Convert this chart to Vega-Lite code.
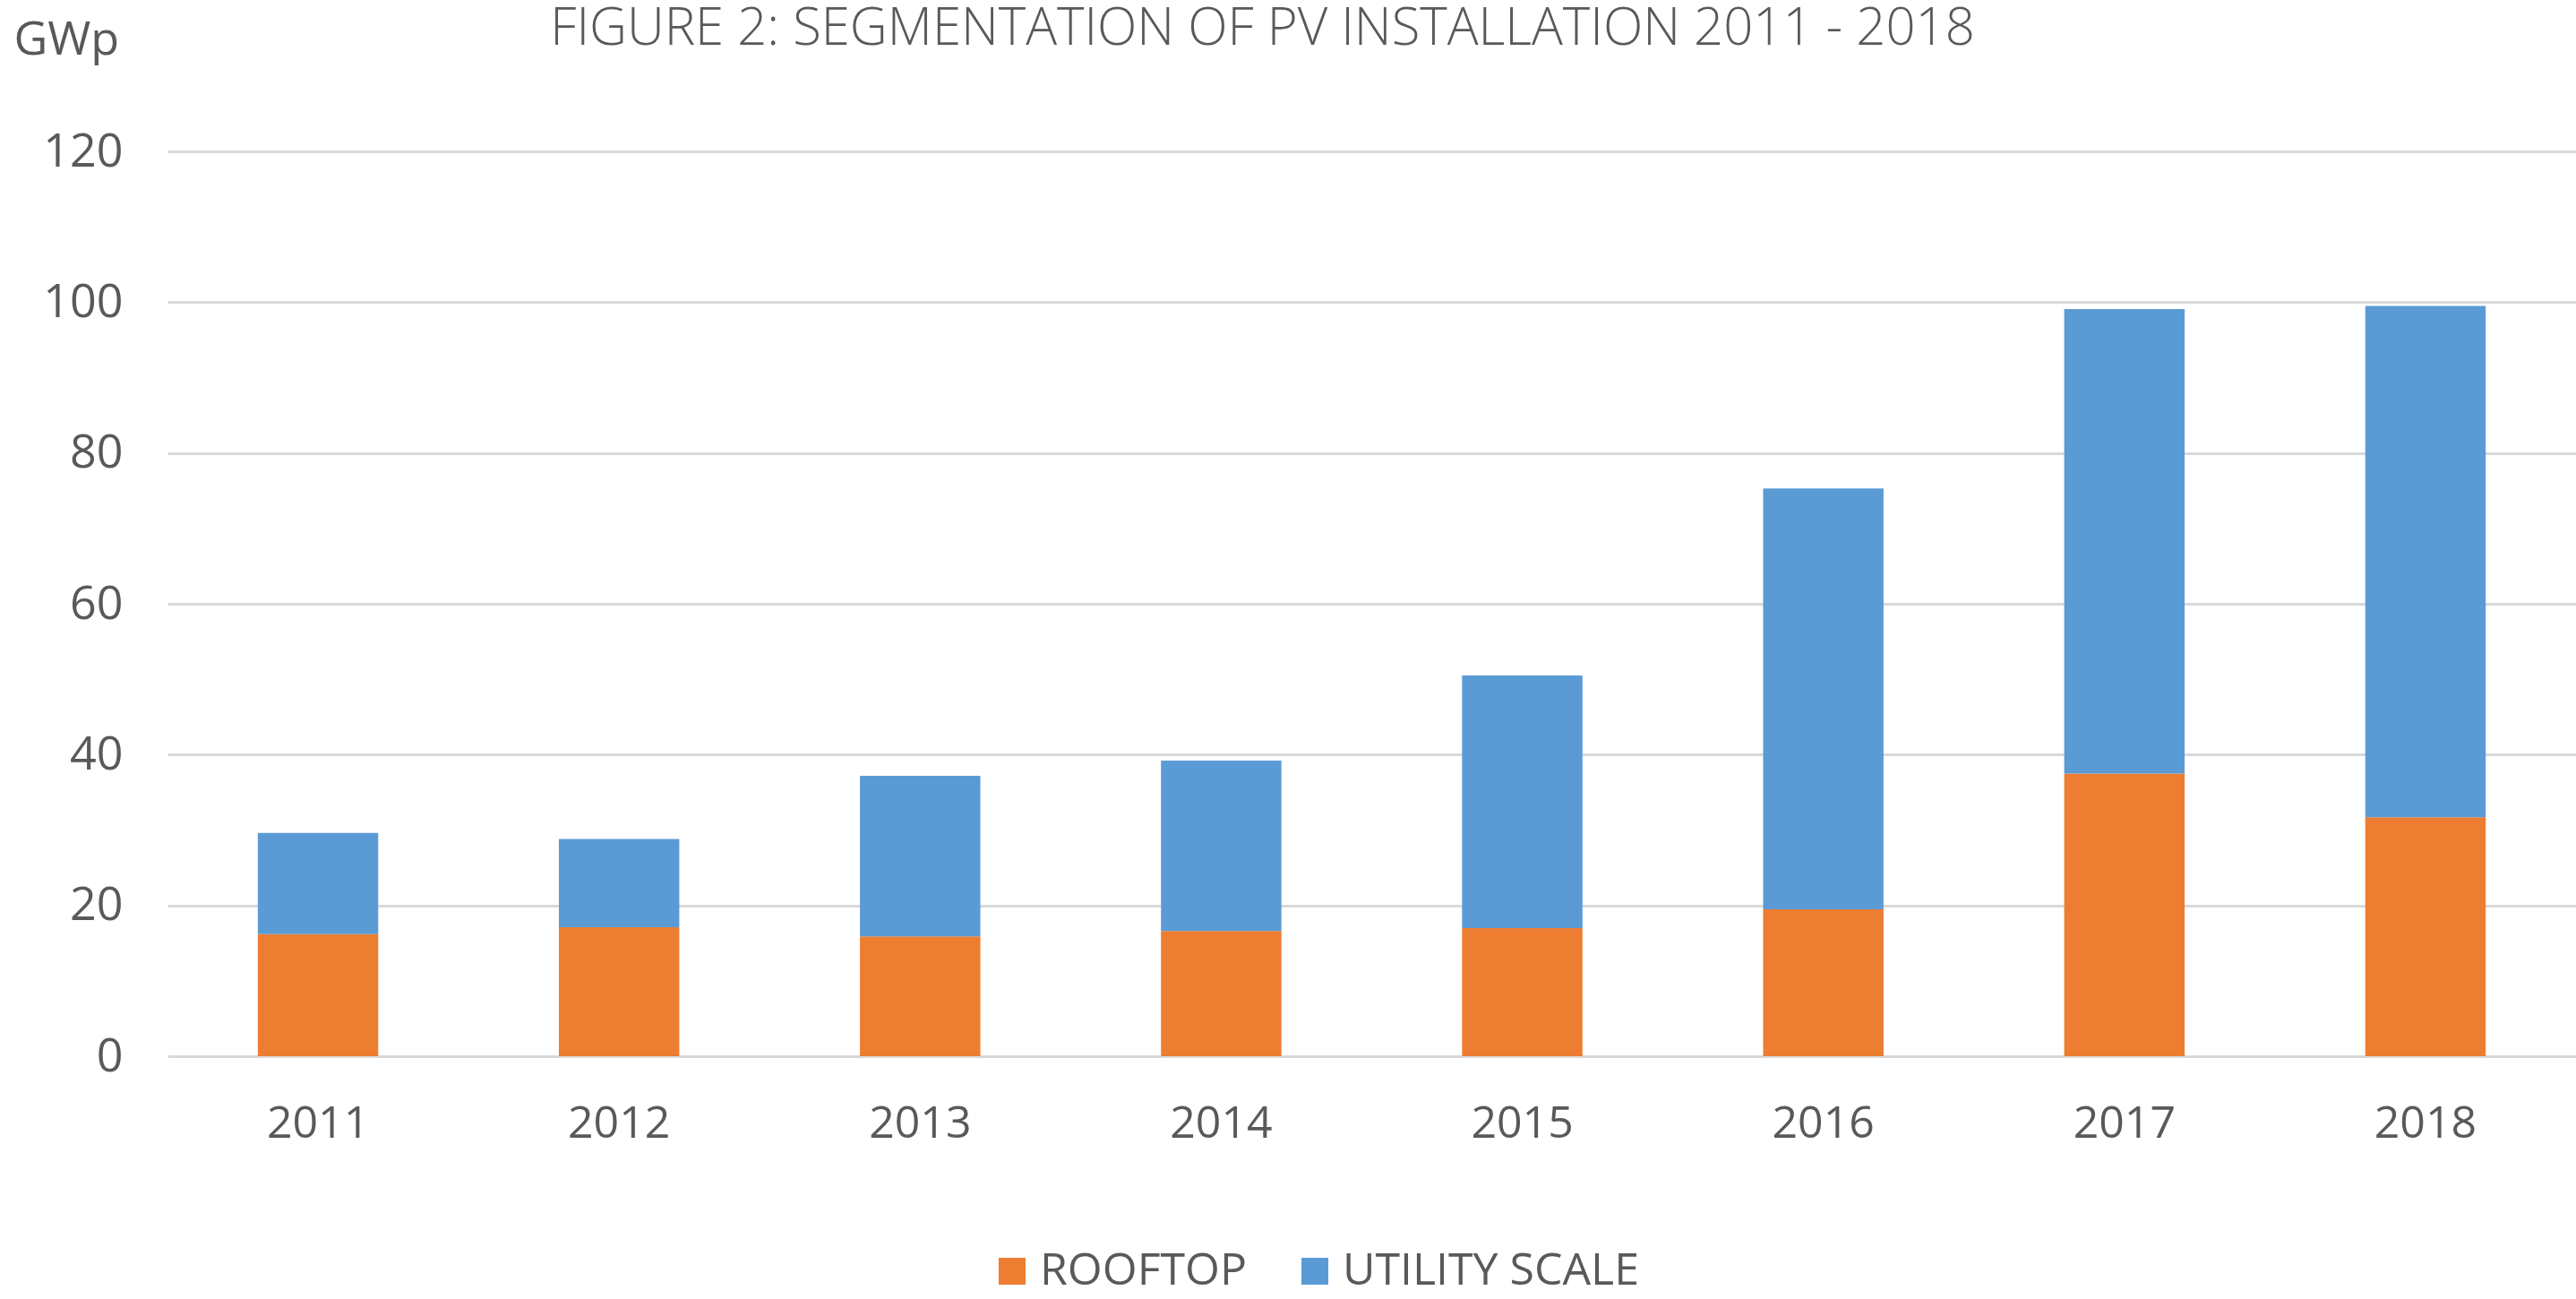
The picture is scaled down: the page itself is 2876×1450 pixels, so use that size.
{
  "$schema": "https://vega.github.io/schema/vega-lite/v6.json",
  "width": 2689,
  "height": 1010,
  "autosize": {"type": "none"},
  "padding": {"left": 187, "top": 169, "right": 0, "bottom": 271},
  "background": "white",
  "title": {
    "text": "FIGURE 2: SEGMENTATION OF PV INSTALLATION 2011 - 2018",
    "font": "Open Sans",
    "fontSize": 58,
    "fontWeight": 300,
    "color": "#595959",
    "anchor": "middle",
    "frame": "bounds",
    "dx": -36,
    "offset": -44
  },
  "data": {
    "values": [
      {"year": "2011", "segment": "ROOFTOP", "gwp": 16.2},
      {"year": "2011", "segment": "UTILITY SCALE", "gwp": 13.4},
      {"year": "2012", "segment": "ROOFTOP", "gwp": 17.1},
      {"year": "2012", "segment": "UTILITY SCALE", "gwp": 11.7},
      {"year": "2013", "segment": "ROOFTOP", "gwp": 15.9},
      {"year": "2013", "segment": "UTILITY SCALE", "gwp": 21.3},
      {"year": "2014", "segment": "ROOFTOP", "gwp": 16.6},
      {"year": "2014", "segment": "UTILITY SCALE", "gwp": 22.6},
      {"year": "2015", "segment": "ROOFTOP", "gwp": 17.0},
      {"year": "2015", "segment": "UTILITY SCALE", "gwp": 33.5},
      {"year": "2016", "segment": "ROOFTOP", "gwp": 19.5},
      {"year": "2016", "segment": "UTILITY SCALE", "gwp": 55.8},
      {"year": "2017", "segment": "ROOFTOP", "gwp": 37.5},
      {"year": "2017", "segment": "UTILITY SCALE", "gwp": 61.6},
      {"year": "2018", "segment": "ROOFTOP", "gwp": 31.7},
      {"year": "2018", "segment": "UTILITY SCALE", "gwp": 67.8}
    ]
  },
  "mark": {"type": "bar"},
  "encoding": {
    "x": {
      "field": "year",
      "type": "nominal",
      "scale": {"paddingInner": 0.6, "paddingOuter": 0.3},
      "axis": {
        "title": null,
        "labelAngle": 0,
        "labelFont": "Open Sans",
        "labelFontSize": 50,
        "labelColor": "#595959",
        "labelPadding": 50,
        "domain": false,
        "ticks": false,
        "grid": false
      }
    },
    "y": {
      "field": "gwp",
      "type": "quantitative",
      "stack": "zero",
      "scale": {"domain": [0, 120]},
      "axis": {
        "values": [0, 20, 40, 60, 80, 100, 120],
        "title": "GWp",
        "titleAngle": 0,
        "titleAlign": "left",
        "titleBaseline": "alphabetic",
        "titleX": -172,
        "titleY": -109,
        "titleFont": "Open Sans",
        "titleFontSize": 52,
        "titleFontWeight": "normal",
        "titleColor": "#595959",
        "labelFont": "Open Sans",
        "labelFontSize": 52,
        "labelColor": "#595959",
        "labelPadding": 50,
        "domain": false,
        "ticks": false,
        "grid": true,
        "gridColor": "#d9d9d9",
        "gridWidth": 3
      }
    },
    "color": {
      "field": "segment",
      "type": "nominal",
      "scale": {"domain": ["ROOFTOP", "UTILITY SCALE"], "range": ["#ED7D31", "#5B9BD5"]},
      "legend": {
        "title": null,
        "orient": "none",
        "direction": "horizontal",
        "legendX": 918,
        "legendY": 1225,
        "symbolType": "square",
        "symbolSize": 900,
        "symbolStrokeWidth": 0,
        "labelFont": "Open Sans",
        "labelFontSize": 50,
        "labelLimit": 800,
        "labelColor": "#595959",
        "labelOffset": 6,
        "columnPadding": 51
      }
    },
    "order": {"field": "segment", "sort": "ascending"}
  },
  "config": {"view": {"stroke": null}}
}
